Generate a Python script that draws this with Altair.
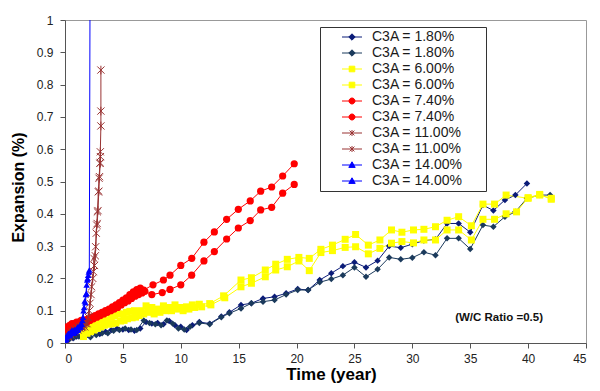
import altair as alt
import pandas as pd

# ---- data ----
t1 = [0, 0.3, 0.7, 1.0, 1.5, 2.0, 2.5, 3.0, 3.5, 4.0, 4.5, 5.0, 5.5, 6.0, 6.5, 7.0, 7.5, 8.0, 8.5, 9.0, 9.5, 10.0, 10.5, 11.0, 11.6, 12.5, 13.5, 14.2, 15.2, 16.1, 17.1, 18.1, 19.1, 20.1, 21.0, 22.0, 23.0, 24.0, 25.0, 26.0, 27.0, 28.0, 29.0, 30.0, 31.0, 32.0, 33.0, 34.0, 35.0, 36.1, 37.0, 38.0, 38.9, 39.9]
v1 = [0.0, 0.01, 0.015, 0.02, 0.022, 0.025, 0.03, 0.028, 0.035, 0.04, 0.045, 0.042, 0.04, 0.038, 0.045, 0.065, 0.06, 0.062, 0.058, 0.068, 0.055, 0.05, 0.04, 0.055, 0.065, 0.06, 0.082, 0.095, 0.118, 0.123, 0.138, 0.143, 0.154, 0.167, 0.164, 0.195, 0.216, 0.238, 0.25, 0.234, 0.255, 0.3, 0.295, 0.306, 0.317, 0.321, 0.37, 0.37, 0.343, 0.427, 0.41, 0.443, 0.458, 0.494]

t2 = [0, 0.4, 0.8, 1.2, 1.7, 2.2, 2.7, 3.2, 3.7, 4.2, 4.7, 5.2, 5.7, 6.2, 6.8, 7.3, 7.8, 8.3, 8.8, 9.3, 9.8, 10.3, 10.8, 11.6, 12.5, 13.5, 14.2, 15.2, 16.1, 17.1, 18.1, 19.1, 20.1, 21.0, 22.0, 23.0, 24.0, 25.0, 26.0, 27.0, 28.0, 29.0, 30.0, 31.0, 32.0, 33.0, 34.0, 35.0, 36.1, 37.0, 38.0, 38.9, 39.9, 41.0, 41.9]
v2 = [0.0, 0.012, 0.018, 0.02, 0.02, 0.018, 0.025, 0.03, 0.03, 0.038, 0.04, 0.045, 0.042, 0.04, 0.07, 0.062, 0.058, 0.055, 0.07, 0.06, 0.045, 0.042, 0.05, 0.062, 0.058, 0.08, 0.092, 0.107, 0.123, 0.128, 0.133, 0.15, 0.164, 0.164, 0.188, 0.198, 0.21, 0.234, 0.205, 0.228, 0.265, 0.259, 0.264, 0.281, 0.272, 0.324, 0.324, 0.291, 0.365, 0.36, 0.391, 0.406, 0.448, 0.458, 0.458]

t3 = [1.5, 1.8, 2.1, 2.4, 2.7, 3.0, 3.3, 3.6, 4.0, 4.3, 4.6, 5.0, 5.3, 5.6, 6.0, 6.3, 6.6, 7.0, 7.5, 8.0, 8.5, 9.0, 9.5, 10.0, 10.5, 11.0, 11.6, 12.5, 13.7, 15.2, 16.1, 17.3, 18.2, 19.2, 20.2, 21.1, 22.1, 23.1, 24.2, 25.1, 26.2, 27.2, 28.2, 29.1, 30.1, 31.0, 32.0, 33.0, 34.0, 35.1, 36.1, 37.1, 38.1, 40.0, 41.0, 42.0]
v3 = [0.04, 0.05, 0.05, 0.06, 0.065, 0.07, 0.075, 0.072, 0.08, 0.085, 0.09, 0.09, 0.095, 0.098, 0.1, 0.095, 0.1, 0.115, 0.11, 0.105, 0.115, 0.11, 0.118, 0.11, 0.112, 0.118, 0.12, 0.122, 0.146, 0.195, 0.202, 0.226, 0.244, 0.259, 0.265, 0.262, 0.29, 0.303, 0.321, 0.336, 0.303, 0.319, 0.35, 0.343, 0.35, 0.352, 0.36, 0.38, 0.391, 0.363, 0.43, 0.43, 0.458, 0.448, 0.458, 0.448]

t4 = [1.6, 1.9, 2.2, 2.5, 2.8, 3.1, 3.4, 3.8, 4.1, 4.4, 4.8, 5.1, 5.4, 5.8, 6.1, 6.4, 6.8, 7.2, 7.7, 8.2, 8.7, 9.2, 9.7, 10.2, 10.7, 11.2, 11.8, 12.6, 13.8, 15.2, 16.1, 17.3, 18.2, 19.2, 20.2, 21.1, 22.1, 23.1, 24.2, 25.1, 26.2, 27.2, 28.2, 29.1, 30.1, 31.0, 32.0, 33.0, 34.0, 35.1, 36.1, 37.1, 38.1, 39.0, 40.0, 41.0, 42.0]
v4 = [0.02, 0.03, 0.035, 0.04, 0.045, 0.05, 0.055, 0.058, 0.06, 0.062, 0.068, 0.07, 0.075, 0.078, 0.08, 0.085, 0.09, 0.095, 0.09, 0.095, 0.1, 0.1, 0.105, 0.1, 0.105, 0.11, 0.112, 0.118, 0.14, 0.174, 0.185, 0.205, 0.226, 0.236, 0.254, 0.224, 0.28, 0.286, 0.296, 0.298, 0.276, 0.293, 0.309, 0.314, 0.31, 0.319, 0.319, 0.35, 0.35, 0.319, 0.383, 0.383, 0.4, 0.406, 0.45, 0.46, 0.445]

t5 = [0, 0.2, 0.4, 0.6, 0.8, 1.0, 1.2, 1.4, 1.6, 1.8, 2.0, 2.3, 2.6, 2.9, 3.2, 3.5, 3.8, 4.1, 4.4, 4.7, 5.0, 5.3, 5.6, 5.9, 6.2, 6.5, 6.8, 7.6, 8.5, 9.07, 10.0, 10.95, 12.0, 12.9, 13.96, 14.97, 16.0, 16.9, 17.85, 18.8, 19.8]
v5 = [0.04, 0.05, 0.055, 0.06, 0.06, 0.065, 0.065, 0.07, 0.068, 0.072, 0.075, 0.08, 0.085, 0.09, 0.095, 0.1, 0.105, 0.112, 0.118, 0.125, 0.133, 0.14, 0.15, 0.158, 0.165, 0.17, 0.164, 0.18, 0.195, 0.21, 0.24, 0.262, 0.312, 0.344, 0.383, 0.414, 0.44, 0.47, 0.483, 0.517, 0.555]

t6 = [0.1, 0.3, 0.5, 0.7, 0.9, 1.1, 1.3, 1.5, 1.7, 1.9, 2.15, 2.45, 2.75, 3.05, 3.35, 3.65, 3.95, 4.25, 4.55, 4.85, 5.15, 5.45, 5.75, 6.05, 6.35, 6.65, 6.9, 7.5, 8.4, 9.07, 10.0, 10.94, 12.0, 12.9, 13.96, 14.97, 16.0, 16.9, 17.85, 18.8, 19.8]
v6 = [0.03, 0.04, 0.045, 0.05, 0.052, 0.055, 0.058, 0.06, 0.062, 0.065, 0.07, 0.075, 0.08, 0.085, 0.09, 0.095, 0.1, 0.105, 0.11, 0.118, 0.125, 0.13, 0.138, 0.145, 0.15, 0.155, 0.16, 0.15, 0.156, 0.166, 0.18, 0.21, 0.254, 0.283, 0.322, 0.356, 0.379, 0.412, 0.42, 0.464, 0.491]

t7 = [0, 0.2, 0.4, 0.6, 0.8, 1.0, 1.2, 1.4, 1.6, 1.8, 2.0, 2.16, 2.3, 2.45, 2.5, 2.65, 2.74, 2.8, 2.88, 2.94, 3.02, 3.05, 3.1, 3.1, 3.1]
v7 = [0.0, 0.02, 0.03, 0.035, 0.04, 0.045, 0.05, 0.05, 0.055, 0.06, 0.08, 0.123, 0.174, 0.221, 0.262, 0.298, 0.365, 0.406, 0.468, 0.51, 0.556, 0.592, 0.672, 0.718, 0.845]

t8 = [0.1, 0.3, 0.5, 0.7, 0.9, 1.1, 1.3, 1.5, 1.7, 1.9, 2.1, 2.25, 2.4, 2.55, 2.62, 2.7, 2.78, 2.85, 2.92, 2.98, 3.04, 3.06]
v8 = [0.01, 0.02, 0.025, 0.03, 0.035, 0.04, 0.045, 0.05, 0.05, 0.06, 0.1, 0.15, 0.2, 0.24, 0.27, 0.34, 0.37, 0.41, 0.47, 0.515, 0.558, 0.577]

t9 = [0, 0.05, 0.1, 0.15, 0.2, 0.3, 0.4, 0.5, 0.6, 0.7, 0.8, 0.9, 1.0, 1.1, 1.2, 1.3, 1.4, 1.5, 1.6, 1.7, 1.8, 1.87, 1.95, 2.05, 2.1, 2.2]
v9 = [0.0, 0.01, 0.015, 0.02, 0.025, 0.03, 0.028, 0.035, 0.04, 0.038, 0.042, 0.04, 0.045, 0.05, 0.05, 0.055, 0.06, 0.07, 0.1, 0.13, 0.15, 0.18, 0.2, 0.22, 0.226, 1.6]

t10 = [0.02, 0.08, 0.12, 0.25, 0.35, 0.45, 0.55, 0.65, 0.75, 0.85, 0.95, 1.05, 1.15, 1.25, 1.35, 1.45, 1.55, 1.65, 1.75, 1.85, 1.92, 2.0]
v10 = [0.005, 0.012, 0.02, 0.022, 0.03, 0.025, 0.032, 0.035, 0.03, 0.038, 0.035, 0.04, 0.042, 0.048, 0.05, 0.058, 0.08, 0.11, 0.125, 0.154, 0.195, 0.21]

labels = ["C3A = 1.80%", "C3A = 1.80%", "C3A = 6.00%", "C3A = 6.00%", "C3A = 7.40%",
          "C3A = 7.40%", "C3A = 11.00%", "C3A = 11.00%", "C3A = 14.00%", "C3A = 14.00%"]
colors = ["#0B1C78", "#1B3A5C", "#FFFF00", "#FFFF00", "#FF0000",
          "#FF0000", "#993333", "#993333", "#0000FF", "#0000FF"]
x_ticks = [0, 5, 10, 15, 20, 25, 30, 35, 40, 45]
y_ticks = [0, 0.1, 0.2, 0.3, 0.4, 0.5, 0.6, 0.7, 0.8, 0.9, 1]
note = ["(W/C Ratio =0.5)"]

# ---- build table ----
ts = [t1, t2, t3, t4, t5, t6, t7, t8, t9, t10]
vs = [v1, v2, v3, v4, v5, v6, v7, v8, v9, v10]
keys = [f"{lab}|{k}" for k, lab in enumerate(labels)]
leg_keys = [f"{lab}#{k}" for k, lab in enumerate(labels)]
rows = []
for key, lk, tt, vv in zip(keys, leg_keys, ts, vs):
    assert len(tt) == len(vv), key
    for i, (a, b) in enumerate(zip(tt, vv)):
        rows.append({"series": key, "legkey": lk, "t": a, "v": b, "i": i})
df = pd.DataFrame(rows)

FONT = "Liberation Sans"
xs = alt.Scale(domain=[0, 45], nice=False, zero=False)
ys = alt.Scale(domain=[0, 1], nice=False)
col_scale = alt.Scale(domain=keys, range=colors)

X = alt.X("t:Q", scale=xs, axis=alt.Axis(values=x_ticks, title="Time (year)", titleX=266, labelOverlap=False))
Y = alt.Y("v:Q", scale=ys, axis=alt.Axis(values=y_ticks, format="~g", title="Expansion (%)",
                                          titleY=167, labelOverlap=False))

lines = alt.Chart(df).mark_line(strokeWidth=1, clip=True).encode(
    x=X, y=Y, order="i:Q",
    color=alt.Color("series:N", scale=col_scale, legend=None),
)

star = "M-1,-1L1,1M-1,1L1,-1M0,-1.2L0,1.2"
groups = [
    (keys[0:2], "diamond", 42, True),
    (keys[2:4], "square", 49, True),
    (keys[4:6], "circle", 52, True),
    (keys[6:8], star, 52, False),
    (keys[8:10], "triangle-up", 42, True),
]
point_layers = []
for ks, shp, sz, fl in groups:
    point_layers.append(
        alt.Chart(df).transform_filter(alt.FieldOneOfPredicate(field="series", oneOf=ks))
        .mark_point(shape=shp, size=sz, filled=fl, strokeWidth=1, opacity=1, clip=True)
        .encode(
            x=X, y=Y,
            color=alt.Color("series:N", scale=col_scale, legend=None),
        )
    )

leg_paths = [
    "M-2.5,0H2.5M0,-0.8L0.8,0L0,0.8L-0.8,0Z",
    "M-2.5,0H2.5M0,-0.8L0.8,0L0,0.8L-0.8,0Z",
    "M-2.5,0H2.5M-0.7,-0.7H0.7V0.7H-0.7Z",
    "M-2.5,0H2.5M-0.7,-0.7H0.7V0.7H-0.7Z",
    "M-2.5,0H2.5M-0.75,0A0.75,0.75,0,1,0,0.75,0A0.75,0.75,0,1,0,-0.75,0Z",
    "M-2.5,0H2.5M-0.75,0A0.75,0.75,0,1,0,0.75,0A0.75,0.75,0,1,0,-0.75,0Z",
    "M-2.5,0H2.5M-0.6,-0.6L0.6,0.6M-0.6,0.6L0.6,-0.6M0,-0.75L0,0.75",
    "M-2.5,0H2.5M-0.6,-0.6L0.6,0.6M-0.6,0.6L0.6,-0.6M0,-0.75L0,0.75",
    "M-2.5,0H2.5M0,-0.8L0.8,0.6H-0.8Z",
    "M-2.5,0H2.5M0,-0.8L0.8,0.6H-0.8Z",
]
leg = alt.Legend(
    title="ii", titleOrient="right", titleOpacity=0, titleFontSize=12, titlePadding=13,
    orient="none", legendX=255, legendY=7,
    strokeColor="#333333", fillColor="white", padding=3,
    labelFont=FONT, labelFontSize=14, labelColor="#1a1a1a",
    labelExpr="split(datum.label, '#')[0]",
    symbolSize=64, symbolStrokeWidth=1, symbolOffset=22, labelOffset=13,
    symbolOpacity=1, rowPadding=2, labelLimit=300,
)
leg_scale = alt.Scale(domain=leg_keys, range=colors)
legend_layer = alt.Chart(df).transform_filter("datum.i < 0").mark_point(filled=True, opacity=1).encode(
    x=X, y=Y,
    fill=alt.Fill("legkey:N", scale=leg_scale, legend=leg),
    stroke=alt.Stroke("legkey:N", scale=leg_scale, legend=leg),
    shape=alt.Shape("legkey:N", scale=alt.Scale(domain=leg_keys, range=leg_paths), legend=leg),
)

note_df = pd.DataFrame({"t": [33.7], "v": [0.077], "text": note})
note_layer = alt.Chart(note_df).mark_text(
    align="left", baseline="middle", font=FONT, fontSize=11.5, fontWeight="bold", color="#111111"
).encode(x=X, y=Y, text="text:N")

chart = alt.layer(lines, *point_layers, legend_layer, note_layer).properties(
    width=521, height=323,
    autosize=alt.AutoSizeParams(type="none"),
    padding={"left": 57, "top": 12, "right": 6, "bottom": 40},
).configure_view(
    stroke="#999999", strokeWidth=1
).configure_axis(
    grid=False, domainColor="#555555", tickColor="#555555", tickSize=5,
    labelFont=FONT, labelFontSize=12, labelColor="#222222", labelOverlap=False,
    titleFont=FONT, titleFontWeight="bold", titleColor="#000000",
).configure_axisX(
    labelPadding=5, titleFontSize=17, titlePadding=2,
).configure_axisY(
    labelPadding=7, titleFontSize=16, titlePadding=10,
)

chart.save("out.html", embed_options={"renderer": "svg", "actions": False})
